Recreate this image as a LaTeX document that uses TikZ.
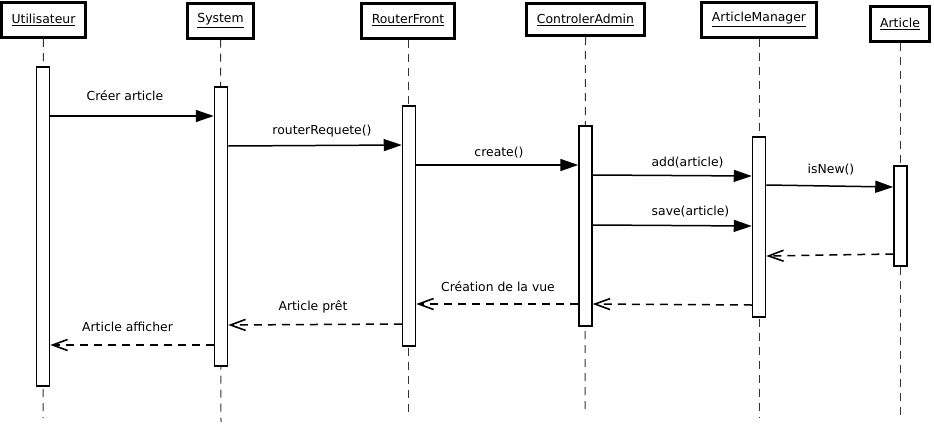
\documentclass[tikz,border=0pt]{standalone}
\usepackage{fontspec}
\setmainfont{DejaVu Sans}
\usetikzlibrary{arrows.meta}
\begin{document}
\begin{tikzpicture}[x=1pt,y=-1pt,
  font=\fontsize{12.4}{14}\selectfont,
  head/.style={draw=black,line width=3pt,fill=white,inner sep=0pt,minimum height=35pt},
  bar/.style={draw=black,line width=1.5pt,fill=white,inner sep=0pt,minimum width=13pt,anchor=north},
  life/.style={draw=black!80,line width=1pt,dash pattern=on 8pt off 6pt},
  msg/.style={draw=black,line width=1.5pt,-{Triangle[length=18pt,width=12pt]}},
  ret/.style={draw=black,line width=1.5pt,dash pattern=on 8pt off 6pt,-{Straight Barb[length=15pt,width=11pt,line width=1.6pt]}},
  lbl/.style={inner sep=0pt}]
\useasboundingbox (0,0) rectangle (934,426);
% headers
\node[head,minimum width=84pt] (hU) at (43.5,20) {\underline{Utilisateur}};
\node[head,minimum width=66pt] (hS) at (220.5,20.5) {\underline{System}};
\node[head,minimum width=93pt] (hR) at (408,20.5) {\underline{RouterFront}};
\node[head,minimum width=118pt,minimum height=32pt] (hC) at (585.5,19.5) {\underline{ControlerAdmin}};
\node[head,minimum width=115pt] (hM) at (759,19.5) {\underline{ArticleManager}};
\node[head,minimum width=59pt] (hA) at (900,23.5) {\underline{Article}};
% lifeline ends
\coordinate (eU) at (43,418);
\coordinate (eS) at (221,422);
\coordinate (eR) at (408,417);
\coordinate (eC) at (585,412);
\coordinate (eM) at (759,418);
\coordinate (eA) at (900,417);
\draw[life] (hU.south) -- (eU);
\draw[life] (hS.south) -- (eS);
\draw[life] (hR.south) -- (eR);
\draw[life] (hC.south) -- (eC);
\draw[life] (hM.south) -- (eM);
\draw[life] (hA.south) -- (eA);
% activation bars
\node[bar,minimum height=319pt] (bU) at (43,66) {};
\node[bar,minimum height=279pt] (bS) at (221,86) {};
\node[bar,minimum height=240pt] (bR) at (409,105) {};
\node[bar,minimum height=200pt] (bC) at (585.5,125) {};
\node[bar,minimum height=180pt] (bM) at (759,136) {};
\node[bar,minimum height=100pt] (bA) at (900.5,165) {};
% messages
\draw[msg] (bU.east |- 0,116) -- (bS.west |- 0,116);
\node[lbl] (l1) at (125,96) {Créer article};
\draw[msg] (bS.east |- 0,146) -- (bR.west |- 0,145);
\node[lbl] (l2) at (322,131) {routerRequete()};
\draw[msg] (bR.east |- 0,165) -- (bC.west |- 0,165);
\node[lbl] (l3) at (499,153) {create()};
\draw[msg] (bC.east |- 0,175) -- (bM.west |- 0,176);
\node[lbl] (l4) at (687.5,163) {add(article)};
\draw[msg] (bM.east |- 0,185) -- (bA.west |- 0,187);
\node[lbl] (l5) at (831,170) {isNew()};
\draw[msg] (bC.east |- 0,225) -- (bM.west |- 0,226);
\node[lbl] (l6) at (690.5,212) {save(article)};
% returns
\draw[ret] (bA.west |- 0,254) -- (bM.east |- 0,256);
\draw[ret] (bM.west |- 0,305) -- (bC.east |- 0,304);
\draw[ret] (bC.west |- 0,304) -- (bR.east |- 0,304);
\node[lbl] (l7) at (498,287) {Création de la vue};
\draw[ret] (bR.west |- 0,324) -- (bS.east |- 0,325);
\node[lbl] (l8) at (313,307) {Article prêt};
\draw[ret] (bS.west |- 0,345) -- (bU.east |- 0,345);
\node[lbl] (l9) at (127.5,327) {Article afficher};
\end{tikzpicture}
\end{document}
